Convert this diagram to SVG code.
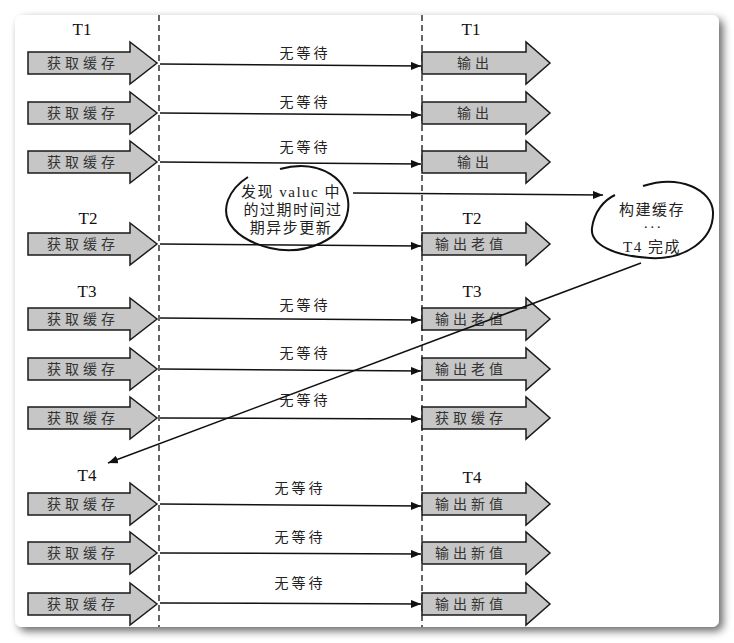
<svg xmlns="http://www.w3.org/2000/svg" width="734" height="643" viewBox="0 0 734 643">
<defs>
<filter id="sh" x="-5%" y="-5%" width="115%" height="115%">
<feGaussianBlur in="SourceAlpha" stdDeviation="4"/>
<feOffset dx="4" dy="4" result="b"/>
<feComponentTransfer><feFuncA type="linear" slope="0.6"/></feComponentTransfer>
<feMerge><feMergeNode/><feMergeNode in="SourceGraphic"/></feMerge>
</filter>
<path id="la" d="M0,-11 H102 V-21 L129,0 L102,21 V11 H0 Z"/>
<path id="ra" d="M0,-11 H104 V-21 L128,0 L104,21 V11 H0 Z"/>
<marker id="ah" viewBox="0 0 10 8" refX="10" refY="4" markerWidth="10" markerHeight="8" markerUnits="userSpaceOnUse" orient="auto">
<path d="M0,0 L10,4 L0,8 Z" fill="#111"/>
</marker>
</defs>
<style>
.shape{fill:#c6c6c6;stroke:#1a1a1a;stroke-width:1.5}
.cn{font-family:"Noto Sans CJK SC","Noto Sans CJK JP",sans-serif;font-size:14px;fill:#333;letter-spacing:4px}
.wd{font-family:"Noto Sans CJK SC",sans-serif;font-size:14px;fill:#222;letter-spacing:3px;text-anchor:middle}
.t{font-family:"Liberation Serif",serif;font-size:17px;fill:#111;text-anchor:middle}
.bt{font-family:"Liberation Serif","Noto Sans CJK SC",serif;font-size:15px;fill:#222;text-anchor:middle;letter-spacing:1.5px}
.ln{stroke:#111;stroke-width:1.5;fill:none;marker-end:url(#ah)}
.dash{stroke:#111;stroke-width:1.3;stroke-dasharray:6,4}
.bub{fill:none;stroke:#111;stroke-width:2}
</style>
<rect x="0" y="0" width="734" height="643" fill="#fff"/>
<rect x="15" y="15" width="704" height="612" rx="7" fill="#fff" filter="url(#sh)"/>
<line class="dash" x1="159" y1="15" x2="159" y2="627"/>
<line class="dash" x1="422" y1="15" x2="422" y2="627"/>

<g id="labels">
<text class="t" x="82" y="35">T1</text>
<text class="t" x="471" y="35">T1</text>
<text class="t" x="88" y="224">T2</text>
<text class="t" x="472" y="224">T2</text>
<text class="t" x="87" y="297">T3</text>
<text class="t" x="472" y="297">T3</text>
<text class="t" x="87" y="481">T4</text>
<text class="t" x="472" y="483">T4</text>
</g>

<g id="l1"><use href="#la" class="shape" x="28" y="63"/><text class="cn" x="47" y="68">获取缓存</text></g>
<g id="l2"><use href="#la" class="shape" x="28" y="113"/><text class="cn" x="47" y="118">获取缓存</text></g>
<g id="l3"><use href="#la" class="shape" x="28" y="162"/><text class="cn" x="47" y="167">获取缓存</text></g>
<g id="l4"><use href="#la" class="shape" x="28" y="244"/><text class="cn" x="47" y="249">获取缓存</text></g>
<g id="l5"><use href="#la" class="shape" x="28" y="319"/><text class="cn" x="47" y="324">获取缓存</text></g>
<g id="l6"><use href="#la" class="shape" x="28" y="369"/><text class="cn" x="47" y="374">获取缓存</text></g>
<g id="l7"><use href="#la" class="shape" x="28" y="418"/><text class="cn" x="47" y="423">获取缓存</text></g>
<g id="l8"><use href="#la" class="shape" x="28" y="504"/><text class="cn" x="47" y="509">获取缓存</text></g>
<g id="l9"><use href="#la" class="shape" x="28" y="553"/><text class="cn" x="47" y="558">获取缓存</text></g>
<g id="l10"><use href="#la" class="shape" x="28" y="604"/><text class="cn" x="47" y="609">获取缓存</text></g>

<g id="r1"><use href="#ra" class="shape" x="422" y="63"/><text class="cn" x="457" y="68">输出</text></g>
<g id="r2"><use href="#ra" class="shape" x="422" y="113"/><text class="cn" x="457" y="118">输出</text></g>
<g id="r3"><use href="#ra" class="shape" x="422" y="162"/><text class="cn" x="457" y="167">输出</text></g>
<g id="r4"><use href="#ra" class="shape" x="422" y="244"/><text class="cn" x="435" y="249">输出老值</text></g>
<g id="r5"><use href="#ra" class="shape" x="422" y="319"/><text class="cn" x="435" y="324">输出老值</text></g>
<g id="r6"><use href="#ra" class="shape" x="422" y="369"/><text class="cn" x="435" y="374">输出老值</text></g>
<g id="r7"><use href="#ra" class="shape" x="422" y="418"/><text class="cn" x="435" y="423">获取缓存</text></g>
<g id="r8"><use href="#ra" class="shape" x="422" y="504"/><text class="cn" x="435" y="509">输出新值</text></g>
<g id="r9"><use href="#ra" class="shape" x="422" y="553"/><text class="cn" x="435" y="558">输出新值</text></g>
<g id="r10"><use href="#ra" class="shape" x="422" y="604"/><text class="cn" x="435" y="609">输出新值</text></g>

<g id="bubble1">
<path class="bub" d="M280,169 C320,158 352,180 348,210 C344,240 305,256 270,248 C238,240 220,222 228,200 C232,190 240,182 248,177"/>
<text class="bt" x="291" y="197">发现 valuc 中</text>
<text class="bt" x="293" y="215">的过期时间过</text>
<text class="bt" x="291" y="233">期异步更新</text>
</g>
<g id="bubble2">
<path class="bub" d="M643,186 C680,174 712,190 713,212 C714,240 685,260 650,258 C615,256 590,245 592,228 C594,212 604,200 615,195"/>
<text class="bt" x="652" y="215">构建缓存</text>
<text class="bt" x="653" y="232">···</text>
<text class="bt" x="652" y="252">T4 完成</text>
</g>

<g id="connectors">
<line class="ln" x1="160" y1="64" x2="421" y2="66"/>
<line class="ln" x1="160" y1="113" x2="421" y2="115"/>
<line class="ln" x1="160" y1="162" x2="421" y2="164"/>
<line class="ln" x1="160" y1="244" x2="421" y2="246"/>
<line class="ln" x1="160" y1="318" x2="421" y2="320"/>
<line class="ln" x1="160" y1="369" x2="421" y2="371"/>
<line class="ln" x1="160" y1="418" x2="421" y2="419"/>
<line class="ln" x1="160" y1="504" x2="421" y2="506"/>
<line class="ln" x1="160" y1="553" x2="421" y2="554"/>
<line class="ln" x1="160" y1="603" x2="421" y2="604"/>
<line class="ln" x1="353" y1="193" x2="603" y2="195"/>
<line class="ln" x1="641" y1="263" x2="108" y2="463"/>
<text class="wd" x="305" y="58">无等待</text>
<text class="wd" x="305" y="107">无等待</text>
<text class="wd" x="305" y="152">无等待</text>
<text class="wd" x="305" y="310">无等待</text>
<text class="wd" x="305" y="358">无等待</text>
<text class="wd" x="305" y="405">无等待</text>
<text class="wd" x="300" y="493">无等待</text>
<text class="wd" x="300" y="542">无等待</text>
<text class="wd" x="300" y="588">无等待</text>
</g>
</svg>
